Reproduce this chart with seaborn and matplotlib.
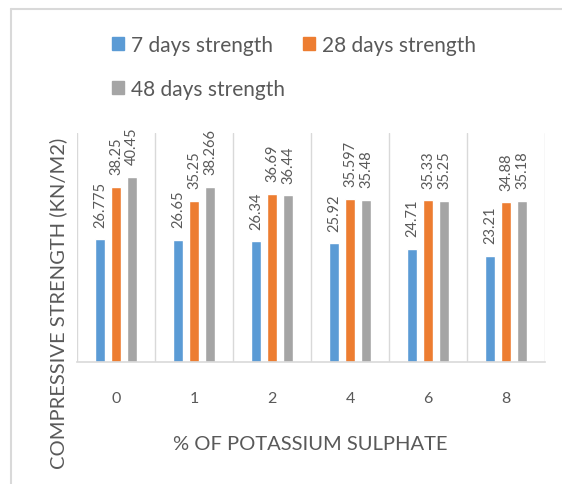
import numpy as np
import pandas as pd
import matplotlib
matplotlib.use("Agg")
import matplotlib.pyplot as plt
from matplotlib.lines import Line2D
import seaborn as sns

# data
percent = ["0", "1", "2", "4", "6", "8"]
strength_7 = [26.775, 26.65, 26.34, 25.92, 24.71, 23.21]
strength_28 = [38.25, 35.25, 36.69, 35.597, 35.33, 34.88]
strength_48 = [40.45, 38.266, 36.44, 35.48, 35.25, 35.18]
series = ["7 days strength", "28 days strength", "48 days strength"]
colors = ["#5B9BD5", "#ED7D31", "#A5A5A5"]

df = pd.DataFrame({
    "pct": percent * 3,
    "value": strength_7 + strength_28 + strength_48,
    "series": [s for s in series for _ in percent],
})

sns.set_style("white")
plt.rcParams["font.family"] = ["Lato", "DejaVu Sans"]
text_col = "#595959"

fig = plt.figure(figsize=(5.62, 4.85), dpi=100)
ax = fig.add_axes([77/562, 1-363/485, (545-77)/562, (363-134)/485])

sns.barplot(data=df, x="pct", y="value", hue="series", order=percent,
            hue_order=series, palette=colors, width=0.615, gap=0.375,
            saturation=1, ax=ax, legend=False)

# value labels (rotated, like excel)
for cont in ax.containers:
    for bar in cont:
        h = bar.get_height()
        lab = ("%.3f" % h).rstrip("0").rstrip(".")
        ax.annotate(lab, (bar.get_x() + bar.get_width()/2, h),
                    xytext=(0, 9), textcoords="offset points",
                    rotation=90, ha="center", va="bottom",
                    fontsize=10.5, color=text_col, annotation_clip=False)

ax.set_ylim(0, 50)
ax.set_xlim(-0.5, len(percent) - 0.5)
ax.set_yticks([])
ax.set_xticks(range(len(percent)))
ax.set_xticklabels(percent, fontsize=11.5, color=text_col)
ax.tick_params(axis="x", length=0, pad=21)
for b in np.arange(-0.5, len(percent), 1.0):
    ax.axvline(b, color="#D9D9D9", lw=1, zorder=0)
for s in ["top", "left", "right"]:
    ax.spines[s].set_visible(False)
ax.spines["bottom"].set_color("#D9D9D9")
ax.spines["bottom"].set_linewidth(1.2)
ax.set_xlabel("")
ax.set_ylabel("")

fig.text(310/562, 1-445/485, "% OF POTASSIUM SULPHATE", ha="center", va="center",
         fontsize=14.5, color=text_col)
fig.text(58/562, 1-303/485, "COMPRESSIVE STRENGTH (KN/M2)", ha="center", va="center",
         rotation=90, fontsize=14.5, color=text_col)

# legend: column-major fill, so order gives rows [7, 28] / [48]
handles = [plt.Rectangle((0, 0), 1, 1, color=c) for c in colors]
order = [0, 2, 1]
fig.legend([handles[i] for i in order], [series[i] for i in order],
           loc="upper left", bbox_to_anchor=(112/562, 1-36/485),
           ncol=2, frameon=False, fontsize=15, labelcolor=text_col,
           borderpad=0, borderaxespad=0,
           handlelength=0.58, handleheight=0.58, handletextpad=0.32,
           columnspacing=0.87, labelspacing=1.15)

# thin frame around the chart area
fig.add_artist(Line2D([11/562, 11/562], [0, 1-10/485], color="#D9D9D9", lw=1.5))
fig.add_artist(Line2D([11/562, 1], [1-10/485, 1-10/485], color="#D9D9D9", lw=1.5))

fig.savefig("out.png", dpi=100)
